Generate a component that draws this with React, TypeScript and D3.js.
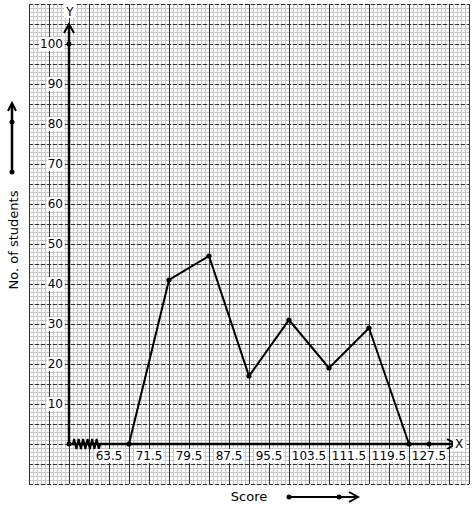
import React from "react";
import * as d3 from "d3";

const classMarks = [67.5, 75.5, 83.5, 91.5, 99.5, 107.5, 115.5, 123.5];
const students = [0, 41, 47, 17, 31, 19, 29, 0];
const xTickLabels = [63.5, 71.5, 79.5, 87.5, 95.5, 103.5, 111.5, 119.5, 127.5];
const yTickLabels = [10, 20, 30, 40, 50, 60, 70, 80, 90, 100];

const W = 474;
const H = 510;
const GX0 = 29, GX1 = 469, GY0 = 4, GY1 = 484;

export default function App() {
  const x = d3.scaleLinear().domain([63.5, 127.5]).range([109, 429]);
  const y = d3.scaleLinear().domain([0, 100]).range([444, 44]);
  const ox = x(55.5);
  const oy = y(0);

  const minorV: number[] = [];
  for (let v = GX0; v <= GX1; v += 4) minorV.push(v);
  const minorH: number[] = [];
  for (let v = GY0; v <= GY1; v += 4) minorH.push(v);
  const majorV: number[] = [];
  for (let v = GX0; v <= GX1; v += 20) majorV.push(v);
  const majorH: number[] = [];
  for (let v = GY0; v <= GY1; v += 20) majorH.push(v);

  const line = d3
    .line<number>()
    .x((_, i) => x(classMarks[i]))
    .y((d) => y(d));

  const zzStart = ox + 4;
  const zzEnd = ox + 31;
  const zzN = 6;
  let zz = `M${zzStart},${oy}`;
  const step = (zzEnd - zzStart) / zzN;
  for (let i = 0; i < zzN; i++) {
    const a = zzStart + i * step;
    zz += ` L${a + step * 0.25},${oy - 5} L${a + step * 0.75},${oy + 5} L${a + step},${oy}`;
  }

  const font = "DejaVu Sans, sans-serif";

  return (
    <svg
      width={W}
      height={H}
      style={{ position: "absolute", left: 0, top: 0, background: "#fff" }}
      fontFamily={font}
    >
      <rect x={0} y={0} width={W} height={H} fill="#fff" />
      <g stroke="#c8c8c8" strokeWidth={1}>
        {minorV.map((v) => (
          <line key={"mv" + v} x1={v + 0.5} x2={v + 0.5} y1={GY0} y2={GY1} />
        ))}
        {minorH.map((v) => (
          <line key={"mh" + v} x1={GX0} x2={GX1} y1={v + 0.5} y2={v + 0.5} />
        ))}
      </g>
      <g stroke="#333" strokeWidth={1}>
        {majorH.map((v) => (
          <line key={"Mh" + v} x1={GX0} x2={GX1} y1={v + 0.5} y2={v + 0.5} strokeDasharray="4,2" />
        ))}
        {majorV.map((v) => (
          <line key={"Mv" + v} x1={v + 0.5} x2={v + 0.5} y1={GY0} y2={GY1} />
        ))}
      </g>

      <g stroke="#000" strokeWidth={2.5} fill="none">
        <line x1={ox} x2={ox} y1={oy} y2={26} />
        <polyline points={`${ox - 5},${33} ${ox},${24} ${ox + 5},${33}`} strokeWidth={2} />
        <line x1={ox} x2={455} y1={oy} y2={oy} />
        <polyline points={`${447},${oy - 5} ${456},${oy} ${447},${oy + 5}`} strokeWidth={2} />
        <path d={zz} strokeWidth={2} />
      </g>
      <circle cx={ox} cy={oy} r={2.5} fill="#000" />
      <circle cx={ox} cy={y(100)} r={2.5} fill="#000" />
      <circle cx={x(127.5)} cy={oy} r={2.5} fill="#000" />

      <rect x={64} y={4} width={12} height={14} fill="#fff" />
      <text x={ox + 1} y={12} fontSize={12} textAnchor="middle" dominantBaseline="central">Y</text>
      <rect x={453} y={437} width={12} height={14} fill="#fff" />
      <text x={459} y={oy} fontSize={12} textAnchor="middle" dominantBaseline="central">X</text>

      {yTickLabels.map((t) => {
        const s = String(t);
        const w = s.length * 7.6;
        return (
          <g key={"yt" + t}>
            <rect x={63 - w - 1} y={y(t) - 7} width={w + 2} height={14} fill="#fff" />
            <text x={63} y={y(t)} fontSize={12} textAnchor="end" dominantBaseline="central">
              {s}
            </text>
          </g>
        );
      })}

      {xTickLabels.map((t) => {
        const s = String(t);
        const w = s.length === 4 ? 27 : 35;
        return (
          <g key={"xt" + t}>
            <rect x={x(t) - w / 2 - 1} y={449} width={w + 2} height={14} fill="#fff" />
            <text x={x(t)} y={456} fontSize={12} textAnchor="middle" dominantBaseline="central">
              {s}
            </text>
          </g>
        );
      })}

      <path d={line(students) || ""} fill="none" stroke="#000" strokeWidth={2} />
      {students.map((d, i) => (
        <circle key={"p" + i} cx={x(classMarks[i])} cy={y(d)} r={2.6} fill="#000" />
      ))}

      <text
        x={13}
        y={240}
        fontSize={13}
        textAnchor="middle"
        dominantBaseline="central"
        transform="rotate(-90 13 240)"
      >
        No. of students
      </text>
      <g stroke="#000" fill="none" strokeWidth={2.5}>
        <line x1={12} x2={12} y1={172} y2={105} />
        <polyline points="8,111 12,103 16,111" strokeWidth={2} />
      </g>
      <circle cx={12} cy={172} r={2.5} fill="#000" />
      <circle cx={12} cy={122} r={2.5} fill="#000" />

      <text x={249} y={496} fontSize={13} textAnchor="middle" dominantBaseline="central">
        Score
      </text>
      <g stroke="#000" fill="none" strokeWidth={2}>
        <line x1={289} x2={357} y1={497} y2={497} />
        <polyline points="349,492 358,497 349,502" />
      </g>
      <circle cx={289} cy={497} r={2.5} fill="#000" />
      <circle cx={339} cy={497} r={2.5} fill="#000" />
    </svg>
  );
}
